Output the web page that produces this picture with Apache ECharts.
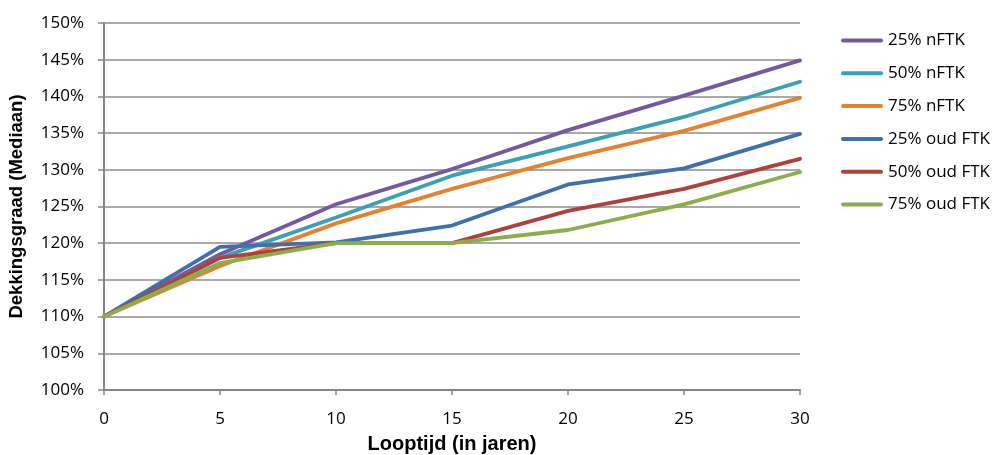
<!DOCTYPE html>
<html>
<head>
<meta charset="utf-8">
<script src="https://cdn.jsdelivr.net/npm/echarts@6/dist/echarts.min.js"></script>
<style>
html,body{margin:0;padding:0;background:#fff;}
#chart{width:994px;height:455px;}
</style>
</head>
<body>
<div id="chart"></div>
<script>
const years = [0, 5, 10, 15, 20, 25, 30];
const seriesNames = ['25% nFTK', '50% nFTK', '75% nFTK', '25% oud FTK', '50% oud FTK', '75% oud FTK'];
const nFTK25 = [110, 118.5, 125.3, 130.1, 135.4, 140.1, 144.9];
const nFTK50 = [110, 118.0, 123.5, 129.2, 133.2, 137.2, 142.0];
const nFTK75 = [110, 116.9, 122.7, 127.4, 131.6, 135.3, 139.8];
const oud25 = [110, 119.5, 120.1, 122.4, 128.0, 130.2, 134.9];
const oud50 = [110, 118.0, 120.0, 120.0, 124.4, 127.4, 131.5];
const oud75 = [110, 117.3, 120.0, 120.0, 121.8, 125.3, 129.7];
const allValues = [nFTK25, nFTK50, nFTK75, oud25, oud50, oud75];
const colors = ['#7658a0', '#3c9fb6', '#e3822f', '#4070ab', '#b0403d', '#8cad4e'];

const chart = echarts.init(document.getElementById('chart'), null, {renderer: 'canvas'});
const tickFont = {fontFamily: 'Open Sans', fontSize: 17, color: '#000'};
chart.setOption({
  animation: false,
  backgroundColor: '#fff',
  grid: {left: 104, top: 23, right: 194, bottom: 65, containLabel: false, outerBoundsMode: 'none'},
  legend: {
    orient: 'vertical',
    left: 836,
    top: 27,
    itemWidth: 42,
    itemHeight: 14,
    itemGap: 15.8,
    icon: 'path://M2,0H40A2,2 0 0 1 40,4H2A2,2 0 0 1 2,0Z',
    symbolKeepAspect: true,
    textStyle: {fontFamily: 'Open Sans', fontSize: 17, color: '#000'},
    data: seriesNames
  },
  xAxis: {
    type: 'value',
    min: 0, max: 30, interval: 5,
    name: 'Looptijd (in jaren)',
    nameLocation: 'middle',
    nameGap: 44,
    nameTextStyle: {fontFamily: 'Liberation Sans', fontWeight: 'bold', fontSize: 20, color: '#000'},
    axisLine: {lineStyle: {color: '#868686', width: 2}},
    axisTick: {show: true, length: 5, lineStyle: {color: '#868686', width: 1.5}},
    axisLabel: Object.assign({margin: 21}, tickFont),
    splitLine: {show: false}
  },
  yAxis: {
    type: 'value',
    min: 100, max: 150, interval: 5,
    name: 'Dekkingsgraad (Mediaan)',
    nameLocation: 'middle',
    nameGap: 78,
    nameTextStyle: {fontFamily: 'Liberation Sans', fontWeight: 'bold', fontSize: 18.5, color: '#000'},
    axisLine: {show: true, lineStyle: {color: '#868686', width: 2}},
    axisTick: {show: true, length: 6, lineStyle: {color: '#868686', width: 1.5}},
    axisLabel: Object.assign({margin: 20, formatter: v => v + '%'}, tickFont),
    splitLine: {show: true, lineStyle: {color: '#8c8c8c', width: 1.5}}
  },
  series: seriesNames.map((n, i) => ({
    name: n,
    type: 'line',
    data: years.map((y, j) => [y, allValues[i][j]]),
    symbol: 'none',
    color: colors[i],
    lineStyle: {width: 3.8, color: colors[i], cap: 'round', join: 'round'}
  }))
});
</script>
</body>
</html>
